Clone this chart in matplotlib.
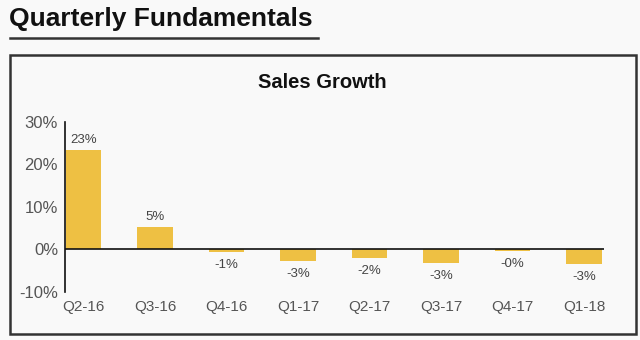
import matplotlib
matplotlib.use("Agg")
import matplotlib.pyplot as plt
from matplotlib.patches import Rectangle
from matplotlib.lines import Line2D

categories = ["Q2-16", "Q3-16", "Q4-16", "Q1-17", "Q2-17", "Q3-17", "Q4-17", "Q1-18"]
values = [23.3, 5.2, -0.7, -2.8, -1.9, -3.1, -0.4, -3.5]
labels = ["23%", "5%", "-1%", "-3%", "-2%", "-3%", "-0%", "-3%"]
yticks = [-10, 0, 10, 20, 30]
ytick_labels = ["-10%", "0%", "10%", "20%", "30%"]

plt.rcParams['font.family'] = ['Liberation Sans', 'DejaVu Sans']
W, H = 640, 340
bg = '#f9f9f9'
fig = plt.figure(figsize=(W/100, H/100), dpi=100, facecolor=bg)

# title and underline
fig.text(9/W, 1-19/H, "Quarterly Fundamentals", fontsize=19, fontweight='bold',
         color='#111111', ha='left', va='center')
fig.add_artist(Line2D([10/W, 318/W], [1-38/H, 1-38/H], color='#333333', lw=1.8,
                      transform=fig.transFigure))
# outer box
fig.add_artist(Rectangle((10/W, 1-334/H), 626/W, 279/H, transform=fig.transFigure,
                         fill=False, edgecolor='#333333', lw=1.8))
fig.text(322/W, 1-82/H, "Sales Growth", fontsize=14.5, fontweight='bold',
         color='#111111', ha='center', va='center')

ax = fig.add_axes([65/W, 1-292/H, (604-65)/W, (292-122)/H])
ax.set_facecolor(bg)
x = list(range(len(categories)))
ax.bar(x, values, width=0.5, color='#EEC043', zorder=2)
ax.axhline(0, color='#111111', lw=1.2, zorder=3)
ax.set_xlim(-0.26, 7.28)
ax.set_ylim(-10, 30)
for s in ['top', 'right', 'bottom']:
    ax.spines[s].set_visible(False)
ax.spines['left'].set_color('#111111')
ax.spines['left'].set_linewidth(1.2)
ax.set_yticks(yticks)
ax.set_yticklabels(ytick_labels, fontsize=12, color='#555555')
ax.set_xticks(x)
ax.set_xticklabels(categories, fontsize=11, color='#555555')
ax.tick_params(axis='both', length=0)
ax.tick_params(axis='y', pad=5)
ax.tick_params(axis='x', pad=6)

for xi, v, lab in zip(x, values, labels):
    if v >= 0:
        ax.annotate(lab, (xi, v), xytext=(0, 3), textcoords='offset points',
                    ha='center', va='bottom', fontsize=9.5, color='#444444')
    else:
        ax.annotate(lab, (xi, v), xytext=(0, -5), textcoords='offset points',
                    ha='center', va='top', fontsize=9.5, color='#444444')

fig.savefig("out.png", dpi=100, facecolor=bg)
